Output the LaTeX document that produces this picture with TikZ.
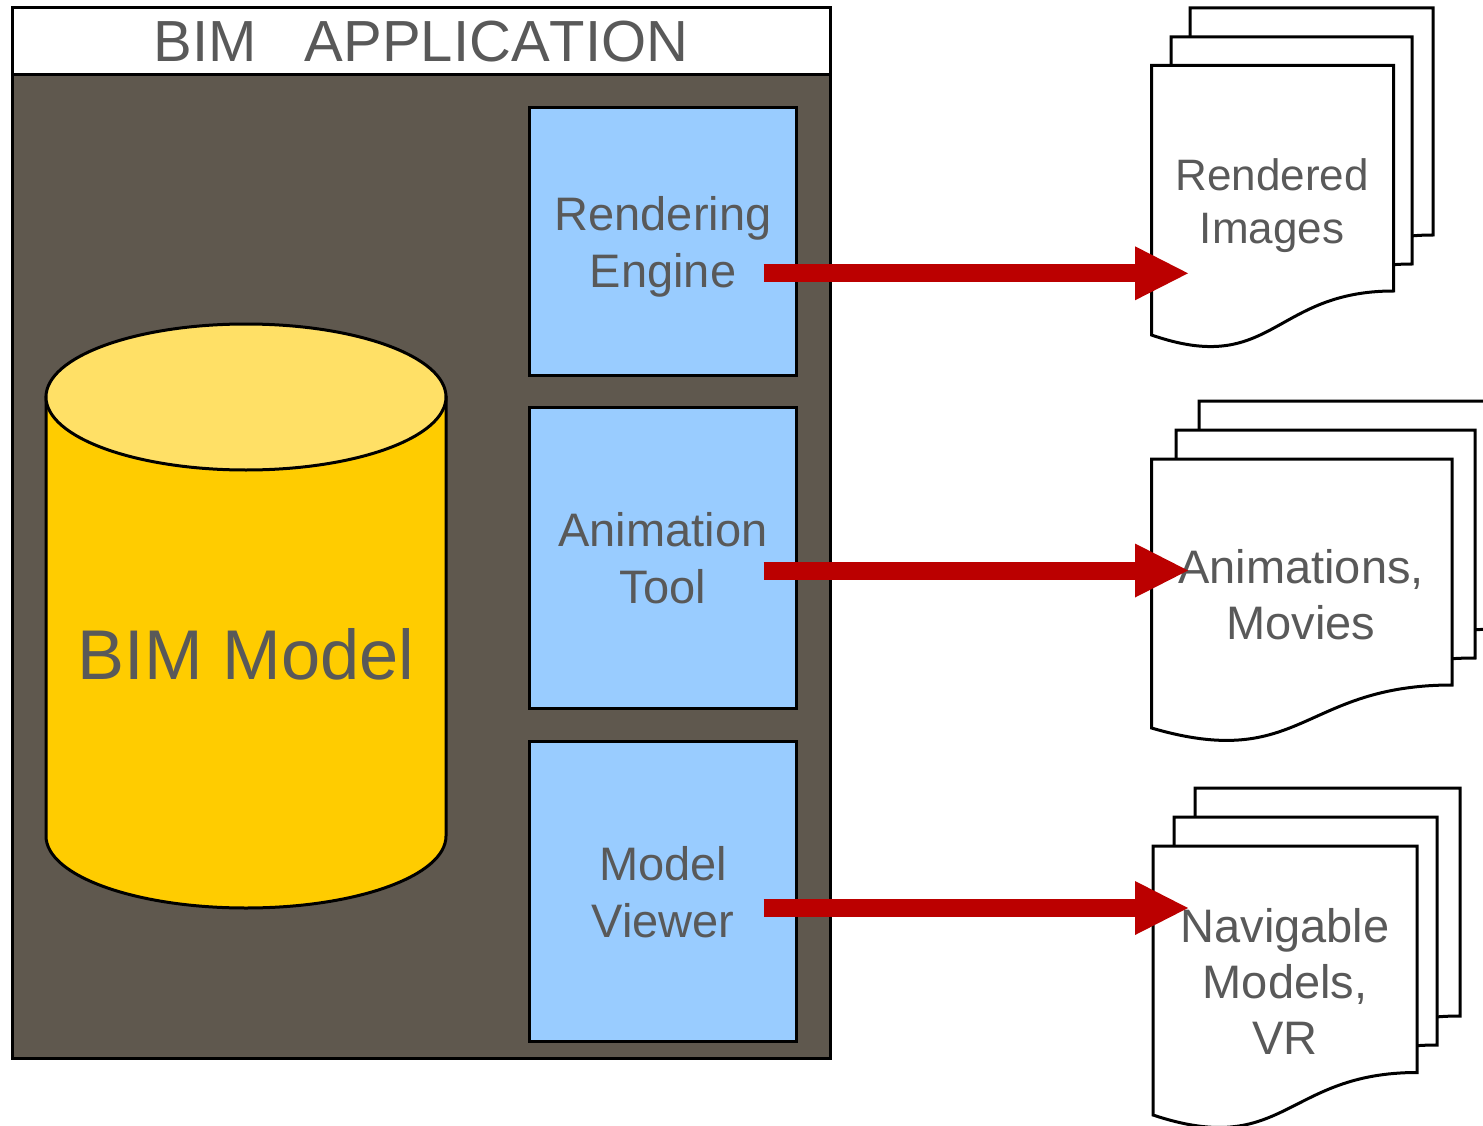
\documentclass[tikz,border=0pt]{standalone}
\usepackage{fontspec}
\setmainfont{Liberation Sans}
\usetikzlibrary{arrows.meta,shapes.geometric}
\definecolor{txt}{HTML}{595959}
\definecolor{appbg}{HTML}{5F584E}
\definecolor{toolblue}{HTML}{99CCFF}
\definecolor{cylbody}{HTML}{FFCC00}
\definecolor{cyltop}{HTML}{FFE066}
\definecolor{arrowred}{HTML}{BB0000}
\tikzset{
  frame/.style={draw=black,line width=3pt,line join=miter},
  panel/.style={frame,rectangle,inner sep=0pt,outer sep=0pt,text=txt,align=center},
  toolbox/.style={panel,fill=toolblue},
  toollabel/.style={text=txt,align=center,inner sep=0pt,font=\fontsize{47}{57}\selectfont},
  docsheet/.style={frame,fill=white},
  doclabel/.style={text=txt,align=center,inner sep=0pt},
  flow/.style={draw=arrowred,line width=18pt,-{Triangle[length=53pt,width=54pt,line width=0pt]}},
}
% #1 left, #2 right, #3 top, #4 right-bottom, #5 left-bottom, #6 lower control y, #7 name
\newcommand{\docshape}[7]{%
  \draw[docsheet] (#1,#4) -- (#1,#3) -- (#2,#3) -- (#2,#4)
    .. controls ({#1+0.5*(#2-#1)},#4) and ({#1+0.5*(#2-#1)},#6) .. (#1,#5) -- cycle;
  \coordinate (#7) at (#1,{0.5*(#3+#4)});
}
\begin{document}
\begin{tikzpicture}[x=1pt,y=-1pt]
\useasboundingbox (0,0) rectangle (1483,1126);
\clip (0,0) rectangle (1483,1126);
\fill[white] (0,0) rectangle (1483,1126);
% application frame
\node[panel,fill=appbg,minimum width=818pt,minimum height=984pt] (app) at (421,566) {};
\node[panel,fill=white,minimum width=818pt,minimum height=67pt] (title) at (421,41) {};
\node[text=txt,inner sep=0pt,font=\fontsize{58}{66}\selectfont\addfontfeature{Kerning=Off}] (titletext) at (421,42) {BIM\ \ \ APPLICATION};
% cylinder
\draw[frame,fill=cylbody] (46,397) -- (46,836) arc[start angle=180,end angle=0,x radius=200,y radius=72] -- (446,397) -- cycle;
\node[frame,fill=cyltop,ellipse,minimum width=400pt,minimum height=146pt,inner sep=0pt,outer sep=0pt] (cyl) at (246,397) {};
\node[text=txt,inner sep=0pt,font=\fontsize{70.4}{80}\selectfont] (model) at (246,654) {BIM Model};
% tools
\node[toolbox,minimum width=267pt,minimum height=267.5pt] (render) at (663,241.25) {};
\node[toollabel] (rendertext) at (663,246.5) {Rendering\\Engine};
\node[toolbox,minimum width=267pt,minimum height=300.5pt] (anim) at (663,557.75) {};
\node[toollabel] (animtext) at (663,558.5) {Animation\\Tool};
\node[toolbox,minimum width=267pt,minimum height=299.5pt] (viewer) at (663,891.25) {};
\node[toollabel] (viewertext) at (663,892.5) {Model\\Viewer};
% rendered images
\docshape{1190}{1433}{8}{235}{279}{319}{d1c}
\docshape{1171}{1412}{37}{264}{308}{348}{d1b}
\docshape{1151.5}{1393.5}{65.5}{291}{335}{377}{d1a}
\node[doclabel,font=\fontsize{44}{53}\selectfont] (l1) at (1272,205.5) {Rendered\\Images};
% animations
\docshape{1199}{1500}{401}{629}{672}{712}{d2c}
\docshape{1176}{1475}{430}{658}{701}{741}{d2b}
\docshape{1151.5}{1452}{459}{685}{728}{772}{d2a}
\node[doclabel,font=\fontsize{47}{56}\selectfont] (l2) at (1301,595) {Animations,\\Movies};
% navigable
\docshape{1195}{1460}{788}{1016}{1059}{1099}{d3c}
\docshape{1174}{1437}{817}{1045}{1088}{1128}{d3b}
\docshape{1153}{1417}{846}{1072.5}{1115}{1159}{d3a}
\node[doclabel,font=\fontsize{47}{56}\selectfont] (l3) at (1285,981) {Navigable\\Models,\\VR};
% arrows
\coordinate (a1s) at (763.5,273.3); \coordinate (a1e) at (1188,273.3);
\coordinate (a2s) at (763.5,570.5); \coordinate (a2e) at (1188,570.5);
\coordinate (a3s) at (763.5,908); \coordinate (a3e) at (1188,908);
\draw[flow] (a1s) -- (a1e);
\draw[flow] (a2s) -- (a2e);
\draw[flow] (a3s) -- (a3e);
\end{tikzpicture}
\end{document}
